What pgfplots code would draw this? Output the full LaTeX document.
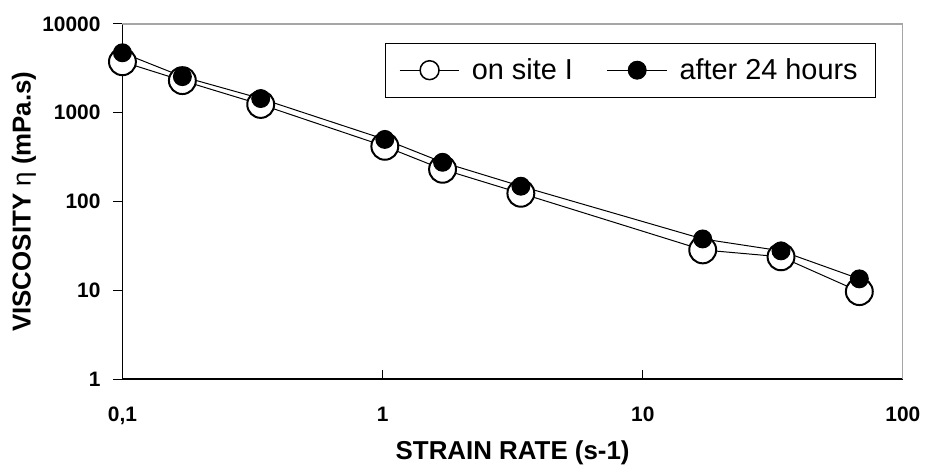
\documentclass[border=0pt]{standalone}
\usepackage{pgfplots}
\pgfplotsset{compat=1.18}
\usepackage{fontspec}
\setmainfont{Liberation Sans}

\begin{document}
\begin{tikzpicture}
\begin{axis}[
    name=ax,
    scale only axis,
    width=392pt, height=178.5pt,
    xmode=log, ymode=log,
    xmin=0.1, xmax=100,
    ymin=1, ymax=10000,
    axis x line*=bottom,
    axis y line*=left,
    axis line style={-, black, line width=0.9pt},
    xtick={0.1,1,10,100},
    xticklabels={{0,1},1,10,100},
    ytick={1,10,100,1000,10000},
    yticklabels={1,10,100,1000,10000},
    xminorticks=false, yminorticks=false,
    tick align=outside,
    major tick length=4.5pt,
    tick style={black, line width=0.5pt},
    xtick style={yshift=4.5pt},
    ticklabel style={font=\fontsize{10.5}{12}\selectfont\bfseries},
    xticklabel style={yshift=-6pt},
    yticklabel style={xshift=-3pt},
    xlabel={STRAIN RATE (s-1)},
    ylabel={VISCOSITY {\mdseries η} (mPa.s)},
    every axis x label/.style={at={(axis description cs:0.5,-0.2073)}, anchor=center,
        font=\fontsize{13}{15}\selectfont\bfseries},
    every axis y label/.style={at={(axis description cs:-0.1263,0.5)}, rotate=90, anchor=center,
        font=\fontsize{13}{15}\selectfont\bfseries},
    legend style={draw=black, line width=0.5pt, at={(0.9656,0.9468)}, anchor=north east,
        font=\fontsize{14.5}{16}\selectfont, inner xsep=7pt, inner ysep=5.5pt},
    legend columns=2,
    legend cell align=left,
    legend image code/.code={\draw[mark repeat=2,mark phase=2] plot coordinates {(0pt,0pt)(15pt,0pt)(30pt,0pt)};},
    /tikz/every odd column/.append style={column sep=4pt},
    /tikz/every even column/.append style={column sep=15pt},
]

\addlegendimage{black, line width=0.5pt, mark=*, mark size=4.75pt, mark options={fill=white, draw=black, line width=0.75pt}}
\addlegendentry{on site I}
\addlegendimage{black, line width=0.5pt, mark=*, mark size=4.5pt, mark options={fill=black}}
\addlegendentry{after 24 hours}

\addplot[forget plot, black, line width=0.5pt, mark=*, mark size=6.75pt,
    mark options={fill=white, draw=black, line width=1pt}]
    coordinates {(0.1,3750)(0.17,2300)(0.34,1240)(1.02,419)(1.7,231)(3.4,124)(17,28.6)(34,23.9)(68,9.7)};

\addplot[forget plot, black, line width=0.5pt, mark=*, mark size=4.5pt,
    mark options={fill=black, draw=black}]
    coordinates {(0.1,4730)(0.17,2550)(0.34,1445)(1.02,501)(1.7,277)(3.4,149)(17,38)(34,27.9)(68,13.5)};

\draw[gray!70, line width=0.9pt] (rel axis cs:0,1) -- (rel axis cs:1,1) -- (rel axis cs:1,0);
\end{axis}
\path ([xshift=-61.5pt,yshift=-45.5pt]ax.south west) rectangle ([xshift=402pt,yshift=190.5pt]ax.south west);
\end{tikzpicture}
\end{document}
